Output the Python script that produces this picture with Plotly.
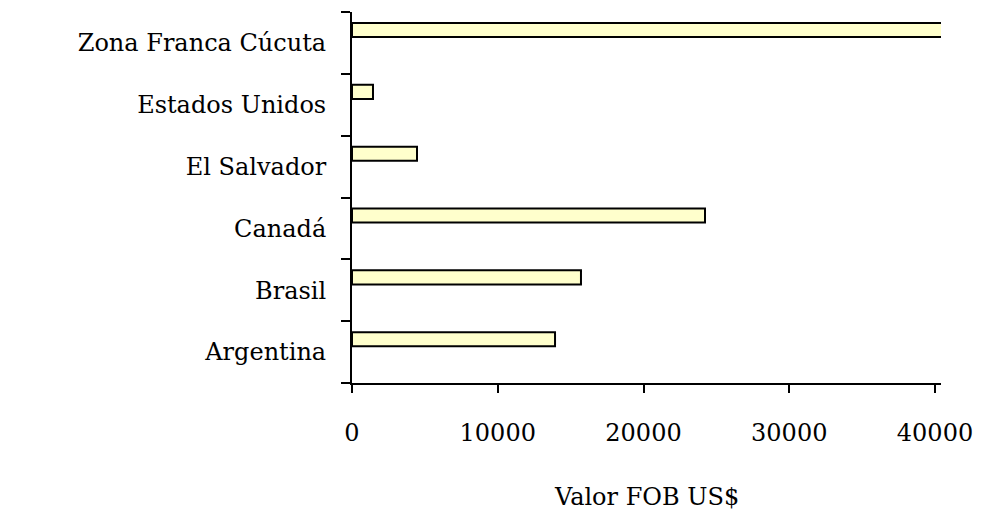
import plotly.graph_objects as go

categories = ["Argentina", "Brasil", "Canadá", "El Salvador", "Estados Unidos", "Zona Franca Cúcuta"]
values = [13930, 15710, 24220, 4460, 1440, 40600]
x_ticks = [0, 10000, 20000, 30000, 40000]
x_title = "Valor FOB US$"

FONT = "DejaVu Serif"
FS = 24

fig = go.Figure(go.Bar(
    y=categories,
    x=values,
    orientation="h",
    marker=dict(color="#FFFFCC", line=dict(color="black", width=2)),
    width=0.227,
    offset=0.095,
    cliponaxis=True,
))

fig.update_layout(
    width=988, height=512,
    margin=dict(l=344, r=55, t=4, b=137),
    plot_bgcolor="white", paper_bgcolor="white",
    showlegend=False,
    font=dict(family=FONT, size=FS, color="black"),
)
fig.add_annotation(
    text=x_title, xref="paper", yref="paper", x=0.5, y=0,
    xanchor="center", yanchor="middle", yshift=-114, showarrow=False,
    font=dict(family=FONT, size=FS, color="black"),
)
fig.update_xaxes(
    range=[0, 40412],
    tickvals=x_ticks,
    ticktext=[str(v) for v in x_ticks],
    ticks="outside", ticklen=8, tickwidth=2, tickcolor="black",
    showline=True, linecolor="black", linewidth=2,
    showgrid=False, zeroline=False,
    ticklabelstandoff=19,
    tickfont=dict(family=FONT, size=FS),
)
fig.update_yaxes(
    type="category",
    categoryorder="array", categoryarray=categories,
    range=[-0.5, 5.5],
    tickson="boundaries",
    ticks="outside", ticklen=9, tickwidth=2, tickcolor="black",
    showline=True, linecolor="black", linewidth=2,
    showgrid=False, zeroline=False,
    ticklabelstandoff=19,
    tickfont=dict(family=FONT, size=FS),
)

fig.write_html("out.html")
